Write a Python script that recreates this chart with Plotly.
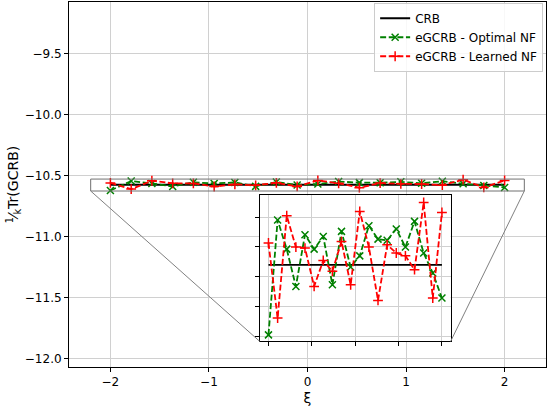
import plotly.graph_objects as go

# xi grid (20 points between -2 and 2)
xi = [-2.0, -1.789, -1.579, -1.368, -1.158, -0.947, -0.737, -0.526, -0.316, -0.105,
      0.105, 0.316, 0.526, 0.737, 0.947, 1.158, 1.368, 1.579, 1.789, 2.0]

crb = [-10.572] * 20

egcrb_optimal = [-10.619, -10.542, -10.5615, -10.5865, -10.5518, -10.5615, -10.553, -10.5854,
                 -10.5496, -10.5735, -10.566, -10.5458, -10.5548, -10.5556, -10.548, -10.5601,
                 -10.5429, -10.5641, -10.5775, -10.5943]

egcrb_learned = [-10.5574, -10.6077, -10.5391, -10.5601, -10.5608, -10.5865, -10.5691, -10.5764,
                 -10.5563, -10.5854, -10.5362, -10.5601, -10.5959, -10.5586, -10.5641, -10.566,
                 -10.5753, -10.5302, -10.5943, -10.5369]

main_xticks = [-2, -1, 0, 1, 2]
main_yticks = [-12.0, -11.5, -11.0, -10.5, -10.0, -9.5]
inset_yticks = [-10.62, -10.60, -10.58, -10.56, -10.54]

# axis limits
xr = [-2.42, 2.42]
yr = [-12.066, -9.074]
ixr = [-2.2, 2.2]
iyr = [-10.6234, -10.5255]
inset_dx = [0.4, 0.8]
inset_dy = [0.07, 0.47]

GREEN = "#008000"
RED = "#ff0000"
dash = "6px,2.6px"

fig = go.Figure()

for xa, ya, show in [("x", "y", True), ("x2", "y2", False)]:
    fig.add_trace(go.Scatter(x=xi, y=crb, mode="lines", name="CRB",
                             line=dict(color="black", width=1.8),
                             xaxis=xa, yaxis=ya, showlegend=show))
    fig.add_trace(go.Scatter(x=xi, y=egcrb_optimal, mode="lines+markers",
                             name="eGCRB - Optimal NF",
                             line=dict(color=GREEN, width=1.8, dash=dash),
                             marker=dict(symbol="x-thin", size=7, color=GREEN,
                                         line=dict(color=GREEN, width=1.5)),
                             xaxis=xa, yaxis=ya, showlegend=show))
    fig.add_trace(go.Scatter(x=xi, y=egcrb_learned, mode="lines+markers",
                             name="eGCRB - Learned NF",
                             line=dict(color=RED, width=1.8, dash=dash),
                             marker=dict(symbol="cross-thin", size=7, color=RED,
                                         line=dict(color=RED, width=1.5)),
                             xaxis=xa, yaxis=ya, showlegend=show))

# zoom indicator rectangle on the main axes
fig.add_shape(type="rect", xref="x", yref="y", x0=ixr[0], x1=ixr[1], y0=iyr[0], y1=iyr[1],
              line=dict(color="#707070", width=1), layer="above")

# connector lines to the inset's lower corners (inset corners expressed in main data coords)
def main_x(fr):
    return xr[0] + fr * (xr[1] - xr[0])

def main_y(fr):
    return yr[0] + fr * (yr[1] - yr[0])

for cx, fx in [(ixr[0], inset_dx[0]), (ixr[1], inset_dx[1])]:
    fig.add_shape(type="line", xref="x", yref="y", x0=cx, y0=iyr[0],
                  x1=main_x(fx), y1=main_y(inset_dy[0]),
                  line=dict(color="#808080", width=1), layer="above")

axis_common = dict(showline=True, linecolor="black", linewidth=1, mirror=True,
                   ticks="outside", ticklen=4, tickcolor="black",
                   showgrid=True, gridcolor="#d0d0d0", gridwidth=1, zeroline=False)

fig.update_layout(
    width=550, height=406,
    margin=dict(l=69, r=4, t=2, b=39),
    paper_bgcolor="white", plot_bgcolor="white",
    font=dict(family="DejaVu Sans", size=12, color="black"),
    xaxis=dict(range=xr, tickvals=main_xticks, title=dict(text="ξ", standoff=4),
               **axis_common),
    yaxis=dict(range=yr, tickvals=main_yticks, tickformat=".1f",
               title=dict(text="<sup>1</sup>⁄<sub>k</sub>Tr(GCRB)", standoff=2),
               **axis_common),
    xaxis2=dict(domain=inset_dx, anchor="y2", range=ixr, tickvals=main_xticks,
                showticklabels=False, **axis_common),
    yaxis2=dict(domain=inset_dy, anchor="x2", range=iyr, tickvals=inset_yticks,
                showticklabels=False, **axis_common),
    legend=dict(x=0.994, y=0.998, xanchor="right", yanchor="top",
                bgcolor="rgba(255,255,255,0.85)", bordercolor="#cccccc", borderwidth=1,
                font=dict(size=12), tracegroupgap=0, itemwidth=30),
)

fig.write_html("out.html", config={"displayModeBar": False},
               post_script="document.body.style.margin='0';document.body.style.overflow='hidden';")
